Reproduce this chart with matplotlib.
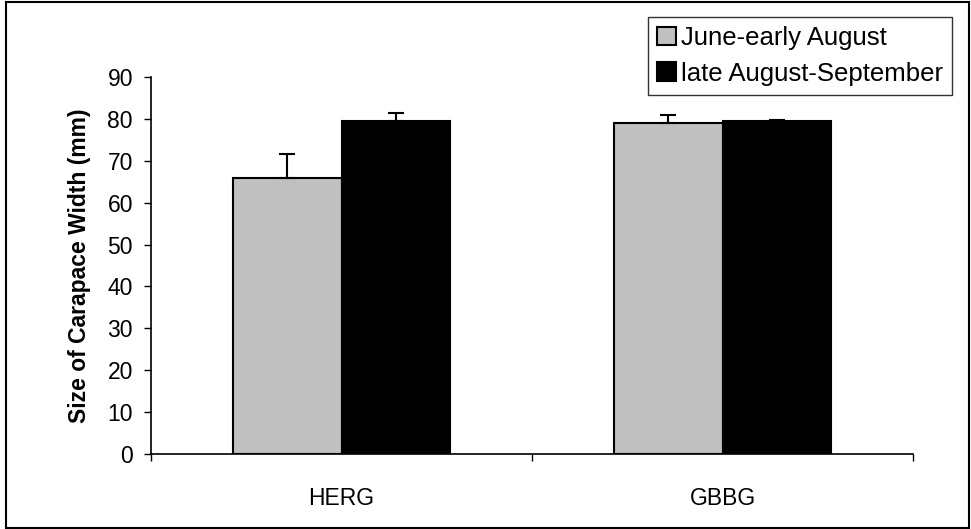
import matplotlib
matplotlib.use("Agg")
import matplotlib.pyplot as plt
from matplotlib.patches import Rectangle, Patch
import numpy as np

plt.rcParams['font.family'] = ['Liberation Sans', 'DejaVu Sans']

categories = ["HERG", "GBBG"]
series_names = ["June-early August", "late August-September"]
early_vals = [65.8, 78.9]
early_err = [5.7, 2.1]
late_vals = [79.4, 79.4]
late_err = [2.0, 0.4]
colors = ["#C0C0C0", "#000000"]
yticks = [0, 10, 20, 30, 40, 50, 60, 70, 80, 90]

W, H = 971, 529
fig = plt.figure(figsize=(W/100, H/100), dpi=100)
ax = fig.add_axes([151/W, 1-454/H, (913-151)/W, (454-77)/H])

x = np.arange(len(categories))
bw = 0.286
ekw = dict(elinewidth=1.5, capthick=1.5, ecolor='black')
ax.bar(x - bw/2, early_vals, bw, color=colors[0], edgecolor='black', linewidth=1.5,
       yerr=[np.zeros(len(x)), early_err], capsize=5.8, error_kw=ekw, label=series_names[0], zorder=2)
ax.bar(x + bw/2, late_vals, bw, color=colors[1], edgecolor='black', linewidth=1.5,
       yerr=[np.zeros(len(x)), late_err], capsize=5.8, error_kw=ekw, label=series_names[1], zorder=2)

ax.set_xlim(-0.5, len(categories) - 0.5)
ax.set_ylim(0, 90)
ax.set_yticks(yticks)
ax.tick_params(axis='y', direction='out', length=5, width=1, labelsize=16.5, pad=8)
ax.set_xticks(np.arange(len(categories) + 1) - 0.5)
ax.set_xticklabels([])
ax.set_xticks(x, minor=True)
ax.set_xticklabels(categories, minor=True, fontsize=16.5)
ax.tick_params(axis='x', which='major', direction='out', length=5, width=1)
ax.tick_params(axis='x', which='minor', length=0, pad=24)
for s in ['top', 'right']:
    ax.spines[s].set_visible(False)
for s in ['left', 'bottom']:
    ax.spines[s].set_linewidth(1.2)

ax.set_ylabel("Size of Carapace Width (mm)", fontsize=16.5, fontweight='bold', labelpad=12)

handles = [Patch(facecolor=colors[0], edgecolor='black', linewidth=1.5),
           Patch(facecolor=colors[1], edgecolor='black', linewidth=1.5)]
leg = fig.legend(handles, series_names, loc='upper right', bbox_to_anchor=(952/W, 1-17/H),
                 fontsize=18.5, frameon=True, fancybox=False, edgecolor='black',
                 handlelength=0.75, handleheight=0.75, handletextpad=0.2, labelspacing=0.45,
                 borderpad=0.35, borderaxespad=0)
leg.get_frame().set_linewidth(1.0)

fig.patches.append(Rectangle((6/W, 1/H), (969-6)/W, (527-1)/H, transform=fig.transFigure,
                             fill=False, edgecolor='black', linewidth=1.5))

fig.savefig("out.png", dpi=100)
